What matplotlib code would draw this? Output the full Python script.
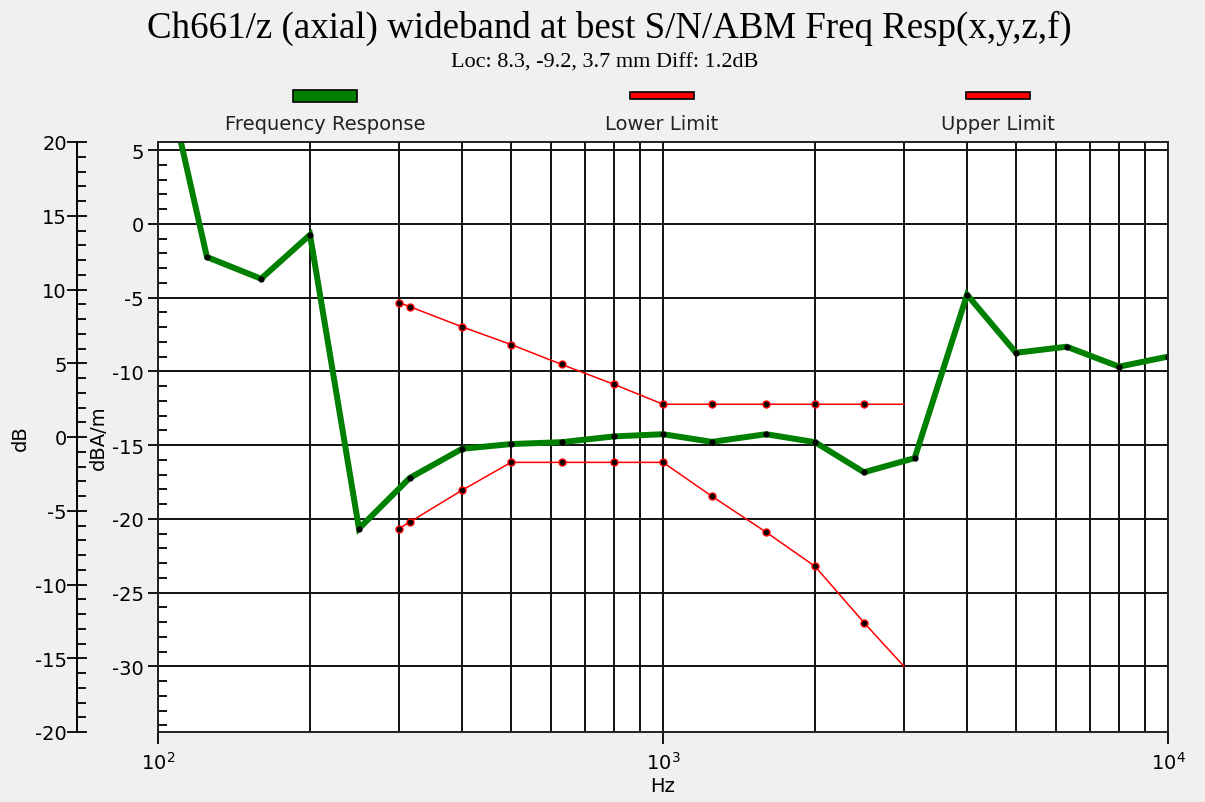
import matplotlib

matplotlib.use("Agg")
import matplotlib.pyplot as plt
from matplotlib.patches import Rectangle
from matplotlib.ticker import LogLocator, MultipleLocator, NullFormatter

# measured frequency response (dBA/m)
freq_hz = [100, 125, 160, 200, 250, 315, 400, 500, 630, 800, 1000,
           1250, 1600, 2000, 2500, 3150, 4000, 5000, 6300, 8000, 10000]
freq_db = [12.4, -2.25, -3.72, -0.74, -20.66, -17.23, -15.25, -14.93, -14.80,
           -14.41, -14.26, -14.78, -14.26, -14.80, -16.84, -15.88, -4.80,
           -8.74, -8.33, -9.68, -9.0]

# limit masks
limit_hz = [300, 315, 400, 500, 630, 800, 1000, 1250, 1600, 2000, 2500, 3000]
lower_db = [-20.66, -20.22, -18.06, -16.17, -16.17, -16.17, -16.17, -18.47,
            -20.9, -23.22, -27.03, -30.0]
upper_db = [-5.34, -5.61, -6.98, -8.18, -9.53, -10.88, -12.23, -12.23,
            -12.23, -12.23, -12.23, -12.23]

legend_labels = ["Frequency Response", "Lower Limit", "Upper Limit"]
legend_colors = ["#008000", "#ff0000", "#ff0000"]

W, H = 1205, 803
PT = 0.72  # points per pixel at 100 dpi
plt.rcParams["font.family"] = "DejaVu Sans"
plt.rcParams["font.size"] = 14
plt.rcParams["mathtext.default"] = "regular"
plt.rcParams["axes.unicode_minus"] = False

fig = plt.figure(figsize=(W / 100, H / 100), dpi=100, facecolor="#f0f0f0")
ax = fig.add_axes([158 / W, 1 - 733 / H, 1010 / W, 590 / H])
ax.set_facecolor("white")

ax.set_xscale("log")
ax.set_xlim(100, 10000)
ax.set_ylim(-34.45, 5.55)
ax.yaxis.set_major_locator(MultipleLocator(5))
ax.yaxis.set_minor_locator(MultipleLocator(1))
ax.xaxis.set_minor_locator(LogLocator(base=10, subs=range(2, 10)))
ax.xaxis.set_minor_formatter(NullFormatter())

ax.grid(which="major", color="#111111", lw=1.4)
ax.grid(which="minor", axis="x", color="#111111", lw=1.4)
ax.tick_params(axis="y", which="major", direction="out", length=10 * PT, width=1.3, pad=3)
ax.tick_params(axis="y", which="minor", direction="in", length=9 * PT, width=1.3)
ax.tick_params(axis="x", which="major", direction="out", length=12 * PT, width=1.3, pad=5)
ax.tick_params(axis="x", which="minor", length=0)
for sp in ax.spines.values():
    sp.set_linewidth(1.4)
    sp.set_color("#222222")

ax.plot(limit_hz, lower_db, color="#ff0000", lw=1.1, marker="o", ms=5,
        mfc="black", mec="#ff0000", mew=1.0, markevery=slice(0, -1))
ax.plot(limit_hz, upper_db, color="#ff0000", lw=1.1, marker="o", ms=5,
        mfc="black", mec="#ff0000", mew=1.0, markevery=slice(0, -1))
ax.plot(freq_hz, freq_db, color="#008000", lw=4.3, marker="o", ms=3.5,
        mfc="black", mec="black", solid_joinstyle="miter")

ax.set_xlabel("Hz", labelpad=2)
ax.set_ylabel("dBA/m")
ax.yaxis.set_label_coords((98 - 158) / 1010, 0.5)
ax.yaxis.label.set_va("center")

# outer dB scale
ax2 = ax.twinx()
ax2.set_ylim(-20, 20)
ax2.yaxis.tick_left()
ax2.yaxis.set_label_position("left")
ax2.spines["left"].set_position(("outward", 81 * PT))
for side in ("right", "top", "bottom"):
    ax2.spines[side].set_visible(False)
ax2.spines["left"].set_linewidth(1.4)
ax2.yaxis.set_major_locator(MultipleLocator(5))
ax2.yaxis.set_minor_locator(MultipleLocator(1))
ax2.tick_params(axis="y", which="major", direction="inout", length=20 * PT, width=1.3, pad=0)
ax2.tick_params(axis="y", which="minor", direction="in", length=9 * PT, width=1.3)
ax2.set_ylabel("dB")
ax2.yaxis.set_label_coords((20 - 158) / 1010, 0.5)
ax2.yaxis.label.set_va("center")

# title block
fig.text(609 / W, 1 - 38 / H, "Ch661/z (axial) wideband at best S/N/ABM Freq Resp(x,y,z,f)",
         family="Liberation Serif", fontsize=26.6, ha="center", va="baseline")
fig.text(605 / W, 1 - 68 / H, "Loc: 8.3, -9.2, 3.7 mm Diff: 1.2dB",
         family="Liberation Serif", fontsize=16, ha="center", va="baseline")

# legend row
key_x = [325, 662, 998]
for cx, label, color in zip(key_x, legend_labels, legend_colors):
    h = 12 if color == "#008000" else 7
    fig.add_artist(Rectangle(((cx - 32) / W, 1 - (96.5 + h / 2) / H), 64 / W, h / H,
                             transform=fig.transFigure, facecolor=color,
                             edgecolor="black", lw=1.2))
    fig.text(cx / W, 1 - 125 / H, label, ha="center", va="center", color="#222222")

fig.savefig("out.png", dpi=100, facecolor=fig.get_facecolor())
